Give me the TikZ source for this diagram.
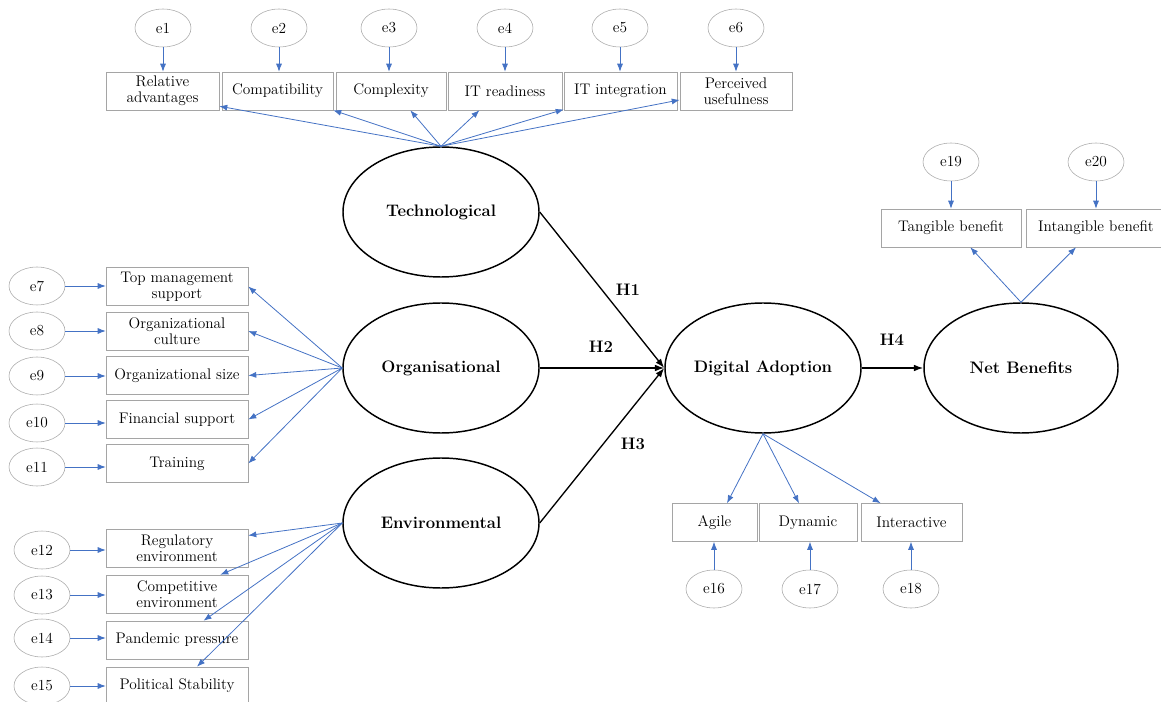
\documentclass[tikz,border=0pt]{standalone}
\usetikzlibrary{shapes.geometric,arrows.meta}
\definecolor{amosblue}{HTML}{4472C4}
\definecolor{boxgray}{HTML}{A5A5A5}
\begin{document}
\begin{tikzpicture}[x=0.75pt,y=-0.75pt]
  \tikzset{ err/.style={ellipse,draw=boxgray,inner sep=0pt,minimum width=42pt,minimum height=28.5pt,font=\fontsize{11.5}{12.5}\selectfont},
    ind/.style={rectangle,draw=boxgray,inner sep=0pt,minimum height=28.5pt,align=center,font=\fontsize{11.5}{12}\selectfont},
    lat/.style={ellipse,draw,line width=1.1pt,inner sep=0pt,minimum width=147pt,minimum height=97.5pt,font=\fontsize{12.5}{14}\selectfont\bfseries},
    hyp/.style={font=\fontsize{12.5}{14}\selectfont\bfseries},
    load/.style={amosblue,-{Latex[length=6pt,width=4.5pt]},line width=0.6pt},
    hpath/.style={black,-{Latex[length=7pt,width=5pt]},line width=1pt},
  }
  \useasboundingbox (0,0) rectangle (1161,702);

  % latent variables
  \node[lat] (tech) at (441, 212) {Technological};
  \node[lat] (org) at (441, 368) {Organisational};
  \node[lat] (env) at (441, 523) {Environmental};
  \node[lat] (da) at (763, 368) {Digital Adoption};
  \node[lat,minimum width=145.5pt] (nb) at (1021, 368) {Net Benefits};

  % technological indicators
  \node[ind,minimum width=84.75pt] (ra) at (162.5, 91) {Relative\\advantages};
  \node[ind,minimum width=83.25pt] (comp) at (277.5, 91) {Compatibility};
  \node[ind,minimum width=82.5pt] (cplx) at (391, 91) {Complexity};
  \node[ind,minimum width=85.5pt] (itr) at (505, 91) {IT readiness};
  \node[ind,minimum width=84.75pt] (itin) at (620.5, 91) {IT integration};
  \node[ind,minimum width=84pt] (pu) at (736, 91) {Perceived\\usefulness};
  \node[err] (e1) at (163, 28) {e1};
  \node[err] (e2) at (279, 28) {e2};
  \node[err] (e3) at (389, 28) {e3};
  \node[err] (e4) at (505, 28) {e4};
  \node[err] (e5) at (620, 28) {e5};
  \node[err] (e6) at (736, 28) {e6};

  % organisational indicators
  \node[ind,minimum width=106.5pt] (tm) at (177, 286.5) {Top management\\support};
  \node[ind,minimum width=106.5pt] (oc) at (177, 331) {Organizational\\culture};
  \node[ind,minimum width=106.5pt] (os) at (177, 375.5) {Organizational size};
  \node[ind,minimum width=106.5pt] (fs) at (177, 419.5) {Financial support};
  \node[ind,minimum width=106.5pt] (tr) at (177, 463.5) {Training};
  \node[err] (e7) at (37, 286) {e7};
  \node[err] (e8) at (37, 331) {e8};
  \node[err] (e9) at (37, 376) {e9};
  \node[err] (e10) at (37, 423) {e10};
  \node[err] (e11) at (37, 467) {e11};

  % environmental indicators
  \node[ind,minimum width=106.5pt] (reg) at (177, 548) {Regulatory\\environment};
  \node[ind,minimum width=106.5pt] (cenv) at (177, 594) {Competitive\\environment};
  \node[ind,minimum width=106.5pt] (pand) at (177, 640) {Pandemic pressure};
  \node[ind,minimum width=106.5pt] (pol) at (177, 686) {Political Stability};
  \node[err] (e12) at (42, 550) {e12};
  \node[err] (e13) at (42, 595) {e13};
  \node[err] (e14) at (42, 638) {e14};
  \node[err] (e15) at (42, 686) {e15};

  % digital adoption indicators
  \node[ind,minimum width=63.75pt] (ag) at (714.5, 522.5) {Agile};
  \node[ind,minimum width=73.5pt] (dyn) at (808, 522.5) {Dynamic};
  \node[ind,minimum width=75.75pt] (inter) at (911.5, 522.5) {Interactive};
  \node[err] (e16) at (714, 589) {e16};
  \node[err] (e17) at (810, 589) {e17};
  \node[err] (e18) at (911, 589) {e18};

  % net benefit indicators
  \node[ind,minimum width=105pt] (tb) at (951, 228) {Tangible benefit};
  \node[ind,minimum width=105pt] (ib) at (1096, 228) {Intangible benefit};
  \node[err] (e19) at (951, 162) {e19};
  \node[err] (e20) at (1096, 162) {e20};

  % hypotheses
  \node[hyp] (h1) at (628, 290) {H1};
  \node[hyp] (h2) at (601, 347) {H2};
  \node[hyp] (h3) at (633, 444) {H3};
  \node[hyp] (h4) at (892, 340) {H4};

  % the structural paths
  \draw[hpath] (tech.east) -- (da.west);
  \draw[hpath] (org.east) -- (da.west);
  \draw[hpath] (env.east) -- (da.west);
  \draw[hpath] (da.east) -- (nb.west);

  % the loadings
  \draw[load] (tech.north) -- (ra.-15);
  \draw[load] (tech.north) -- (comp.south east);
  \draw[load] (tech.north) -- (cplx.-45);
  \draw[load] (tech.north) -- (itr.-143);
  \draw[load] (tech.north) -- (itin.-162);
  \draw[load] (tech.north) -- (pu.-171);
  \draw[load] (org.west) -- (tm.east);
  \draw[load] (org.west) -- (oc.east);
  \draw[load] (org.west) -- (os.east);
  \draw[load] (org.west) -- (fs.east);
  \draw[load] (org.west) -- (tr.east);
  \draw[load] (env.west) -- (reg.10);
  \draw[load] (env.west) -- (cenv.24);
  \draw[load] (env.west) -- (pand.36);
  \draw[load] (env.west) -- (pol.44);
  \draw[load] (da.south) -- (ag.57);
  \draw[load] (da.south) -- (dyn.115);
  \draw[load] (da.south) -- (inter.148);
  \draw[load] (nb.north) -- (tb.-45);
  \draw[load] (nb.north) -- (ib.-136);

  % the error terms
  \foreach \e/\i in {e1/ra,e2/comp,e3/cplx,e4/itr,e5/itin,e6/pu,e19/tb,e20/ib}
    \draw[load] (\e.south) -- (\e.south |- \i.north);
  \foreach \e/\i in {e7/tm,e8/oc,e9/os,e10/fs,e11/tr,e12/reg,e13/cenv,e14/pand,e15/pol}
    \draw[load] (\e.east) -- (\e.east -| \i.west);
  \foreach \e/\i in {e16/ag,e17/dyn,e18/inter}
    \draw[load] (\e.north) -- (\e.north |- \i.south);
\end{tikzpicture}
\end{document}
